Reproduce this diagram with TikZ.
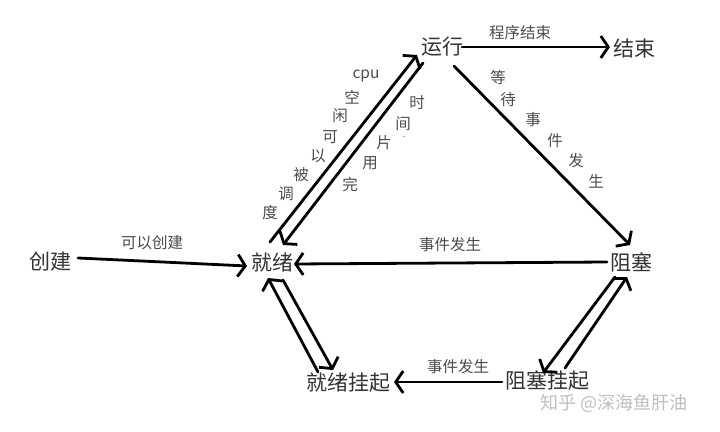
\documentclass[tikz,border=0pt]{standalone}
\usepackage{fontspec}
\setmainfont{Noto Sans CJK SC}
\usetikzlibrary{arrows.meta,calc}
\begin{document}
\begin{tikzpicture}[x=1pt,y=-1pt,
  st/.style={font=\fontsize{21}{24}\selectfont, text=black!80, inner sep=1pt},
  lb/.style={font=\fontsize{15.5}{17}\selectfont, text=black!70, inner sep=0pt},
  wm/.style={font=\fontsize{18}{20}\selectfont, text=black!25, inner sep=0pt},
  arr/.style={line width=2.8pt, line cap=round, -{Straight Barb[length=7.5pt,width=22pt,line width=2.8pt]}}
]
\useasboundingbox[fill=white] (0,0) rectangle (720,431);
% states
\node[st] (cj) at (50,262) {创建};
\node[st] (jx) at (272,263) {就绪};
\node[st] (yx) at (442,47) {运行};
\node[st] (js) at (634,49) {结束};
\node[st] (zs) at (631,262) {阻塞};
\node[st] (zsgq) at (547,381) {阻塞挂起};
\node[st] (jxgq) at (348,383) {就绪挂起};
% connectors
\draw[arr] ($(cj)+(28,-4)$) -- ($(jx)+(-25,3)$);
\draw[arr] ($(jx)+(-2,-21)$) -- ($(yx)+(-25,8)$);
\draw[arr] ($(yx)+(-19,16)$) -- ($(jx)+(11,-18)$);
\draw[arr] ($(yx)+(20,0)$) -- ($(js)+(-24,-2)$);
\draw[arr] ($(yx)+(12,19)$) -- ($(zs)+(-1,-17)$);
\draw[arr] ($(zs)+(-24,0)$) -- ($(jx)+(22,1)$);
\draw[arr] ($(jx)+(11,17)$) -- ($(jxgq)+(-15,-13)$);
\draw[arr] ($(jxgq)+(-30,-11)$) -- ($(jx)+(-4,15)$);
\draw[arr] ($(zs)+(-16,15)$) -- ($(zsgq)+(-4,-8)$);
\draw[arr] ($(zsgq)+(18,-13)$) -- ($(zs)+(-4,15)$);
\draw[arr] ($(zsgq)+(-45,1)$) -- ($(jxgq)+(46,-1)$);
% labels
\node[lb] (l1) at (152,243) {可以创建};
\node[lb] (l2) at (520,33) {程序结束};
\node[lb] (l3) at (450,245) {事件发生};
\node[lb] (l4) at (458,367) {事件发生};
\node[lb] (a1) at (366,76) {cpu};
\node[lb] (a2) at (352,97) {空};
\node[lb] (a3) at (340,116) {闲};
\node[lb] (a4) at (330,137) {可};
\node[lb] (a5) at (318,156) {以};
\node[lb] (a6) at (301,175) {被};
\node[lb] (a7) at (286,194) {调};
\node[lb] (a8) at (270,213) {度};
\node[lb] (b1) at (417,103) {时};
\node[lb] (b2) at (403,124) {间};
\node[lb,font=\fontsize{8}{8}\selectfont] (b3) at (404,137) {.};
\node[lb] (b4) at (384,143) {片};
\node[lb] (b5) at (370,163) {用};
\node[lb] (b6) at (350,185) {完};
\node[lb] (c1) at (498,78) {等};
\node[lb] (c2) at (508,100) {待};
\node[lb] (c3) at (533,120) {事};
\node[lb] (c4) at (555,141) {件};
\node[lb] (c5) at (576,161) {发};
\node[lb] (c6) at (596,181) {生};
% watermark
\node[wm] (w) at (614,403) {知乎 @深海鱼肝油};
\end{tikzpicture}
\end{document}
